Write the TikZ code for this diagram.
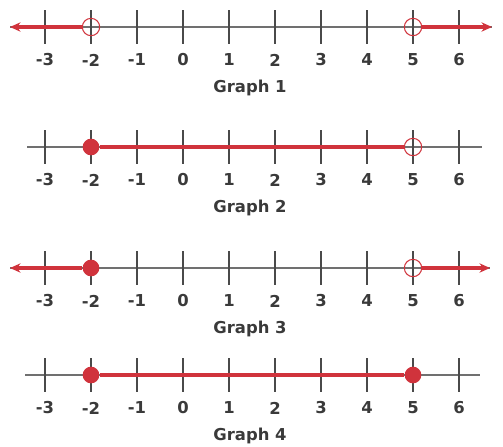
\documentclass[tikz,border=0pt]{standalone}
\usepackage{xcolor}
\usepackage{fontspec}
\setsansfont{DejaVu Sans}
\usepackage{tikz}
\usetikzlibrary{arrows.meta, positioning, calc}
\definecolor{rayred}{HTML}{D0333C}
\definecolor{axisgray}{HTML}{707070}
\definecolor{tickgray}{HTML}{4A4A4A}
\definecolor{labelgray}{HTML}{3A3A3A}

\begin{document}
\begin{tikzpicture}[
    x=0.03cm, y=-0.03cm,
    axisline/.style={draw=axisgray, line width=1.4pt},
    tickmark/.style={draw=tickgray, line width=1.2pt},
    ticklabel/.style={font=\sffamily\bfseries\fontsize{14}{16}\selectfont, text=labelgray, inner sep=0pt},
    graphtitle/.style={font=\sffamily\bfseries\fontsize{14}{16}\selectfont, text=labelgray, inner sep=0pt},
    rayline/.style={draw=rayred, line width=3pt},
    arrowray/.style={rayline, -{Stealth[length=9pt, width=8pt]}},
    opendot/.style={circle, draw=rayred, line width=0.9pt, minimum size=0.52cm, inner sep=0pt},
    fulldot/.style={circle, fill=rayred, minimum size=0.5cm, inner sep=0pt},
  ]
  \useasboundingbox (0,0) rectangle (503,446);

  % the four number lines
  \foreach \g/\yy/\xl/\xr in {1/27/10/492, 2/147/27/482, 3/268/10/490, 4/375/25/480}{
    \draw[axisline] (\xl,\yy) -- (\xr,\yy);
    \foreach \n [count=\i] in {-3,...,6}{
      \coordinate (g\g-\i) at ({183+46*\n},\yy);
      \draw[tickmark] ($(g\g-\i)+(0,-17)$) -- ($(g\g-\i)+(0,17)$);
      \node[ticklabel] (t\g-\i) at ($(g\g-\i)+(0,33)$) {\n};
    }
    \node[graphtitle] (title\g) at (250,\yy+61) {Graph \g};
  }

  % Graph 1
  \coordinate (lend1) at (10,27);
  \coordinate (rend1) at (492,27);
  \node[opendot] (lo1) at (g1-2) {};
  \node[opendot] (hi1) at (g1-9) {};
  \draw[arrowray] (lo1.west) -- (lend1);
  \draw[arrowray] (hi1.east) -- (rend1);

  % Graph 2
  \node[fulldot] (lo2) at (g2-2) {};
  \node[opendot] (hi2) at (g2-9) {};
  \draw[rayline] (lo2.east) -- (hi2.west);

  % Graph 3
  \coordinate (lend3) at (10,268);
  \coordinate (rend3) at (490,268);
  \node[fulldot] (lo3) at (g3-2) {};
  \node[opendot] (hi3) at (g3-9) {};
  \draw[arrowray] (lo3.west) -- (lend3);
  \draw[arrowray] (hi3.east) -- (rend3);

  % Graph 4
  \node[fulldot] (lo4) at (g4-2) {};
  \node[fulldot] (hi4) at (g4-9) {};
  \draw[rayline] (lo4.east) -- (hi4.west);
\end{tikzpicture}
\end{document}
